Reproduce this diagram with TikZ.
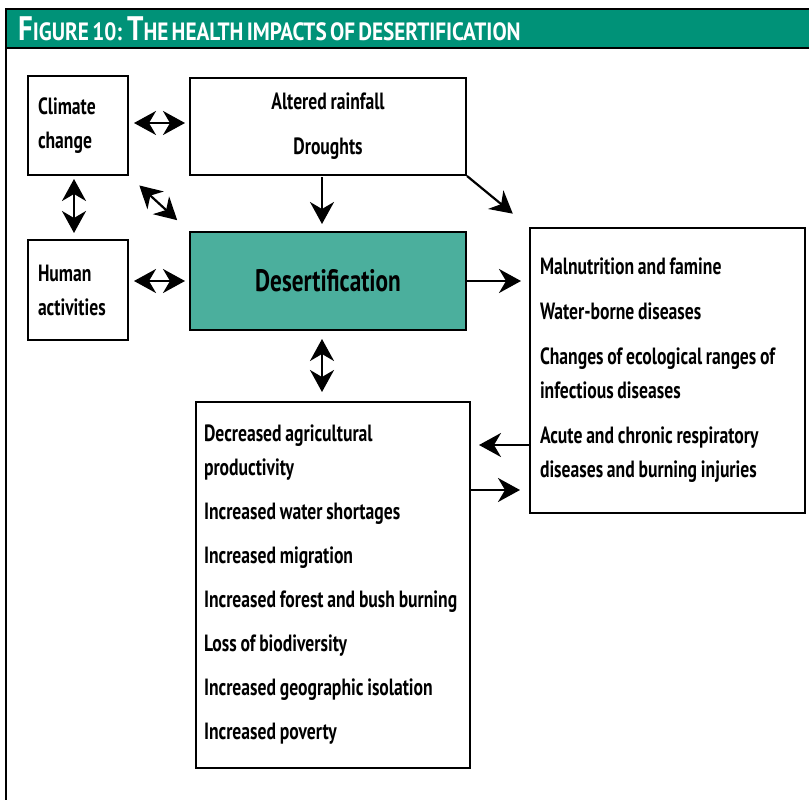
\documentclass[tikz,border=0pt]{standalone}
\usepackage{fontspec}
\setmainfont[FakeStretch=0.75,WordSpace=0.85]{PT Sans}
\newfontfamily\titlefont[FakeStretch=0.85,WordSpace=0.6]{PT Sans}
\usepackage{tikz}
\usetikzlibrary{arrows.meta,positioning,calc}
\definecolor{titlegreen}{RGB}{0,146,120}
\definecolor{desertgreen}{RGB}{75,175,157}
\tikzset{
  box/.style={draw,line width=2pt,inner sep=0pt,align=flush left,
    font=\bfseries\fontsize{23.5}{34}\selectfont},
  tip/.tip={Stealth[length=22pt,width=24pt,inset=7pt]},
  arr/.style={line width=2.2pt,-tip},
  darr/.style={line width=2.2pt,tip-tip}
}
\newcommand\titlecap[1]{{\fontsize{34}{34}\selectfont #1}}
\begin{document}
\begin{tikzpicture}[x=1pt,y=-1pt]
\useasboundingbox (0,0) rectangle (809,800);
% title bar and frame
\fill[titlegreen] (5,9) rectangle (809,48);
\draw[line width=2.5pt] (5,9)--(809,9) (5,48)--(809,48) (6,9)--(6,800);
\node[anchor=base west,text=white,inner sep=0,font=\titlefont\bfseries\fontsize{25}{25}\selectfont] (title) at (18,41)
  {\titlecap{F}IGURE 10: \titlecap{T}HE HEALTH IMPACTS OF DESERTIFICATION};
% boxes
\node[box,minimum width=100pt,minimum height=99pt,text width=80pt] (clim) at (78,125.5) {Climate\\change};
\node[box,minimum width=100pt,minimum height=100pt,text width=80pt] (hum) at (78,290) {Human\\activities};
\node[box,minimum width=276pt,minimum height=97pt,align=center] (alt) at (328,126.5) {Altered rainfall\\[11pt]Droughts};
\node[box,fill=desertgreen,minimum width=276pt,minimum height=98pt,align=center,
  font=\bfseries\fontsize{31}{34}\selectfont] (des) at (328,281) {Desertification};
\node[box,minimum width=275pt,minimum height=285pt,text width=255pt] (eff) at (667.5,370.5)
  {Malnutrition and famine\\[11pt]Water-borne diseases\\[11pt]Changes of ecological ranges of\\infectious diseases\\[11pt]Acute and chronic respiratory\\diseases and burning injuries};
\node[box,minimum width=274pt,minimum height=366pt,text width=258pt] (cons) at (333,585)
  {Decreased agricultural\\productivity\\[10pt]Increased water shortages\\[10pt]Increased migration\\[10pt]Increased forest and bush burning\\[10pt]Loss of biodiversity\\[10pt]Increased geographic isolation\\[10pt]Increased poverty};
% connectors
\draw[darr,shorten <=5pt,shorten >=4pt] (clim.east |- 0,123) -- (alt.west |- 0,123);
\draw[darr,shorten <=3pt,shorten >=6pt] (clim.south) ++(-4,0) coordinate (cs) -- (cs |- hum.north);
\draw[darr,shorten <=14pt,shorten >=16pt] (clim.south east) -- (des.north west);
\draw[arr,shorten <=1pt,shorten >=7pt] (alt.south) ++(-6,0) coordinate (as) -- (as |- des.north);
\draw[arr,shorten >=21pt] (alt.south east) -- (eff.north west);
\draw[darr,shorten <=5pt,shorten >=4pt] (hum.east |- des.west) -- (des.west);
\draw[arr,shorten >=8pt] (des.east) -- (des.east -| eff.west);
\draw[darr,shorten <=8pt,shorten >=9pt] (des.south) ++(-6,0) coordinate (ds) -- (ds |- cons.north);
\draw[arr,shorten >=8pt] (eff.west |- 0,445) -- (cons.east |- 0,445);
\draw[arr,shorten >=9pt] (cons.east |- 0,490) -- (eff.west |- 0,490);
\end{tikzpicture}
\end{document}
